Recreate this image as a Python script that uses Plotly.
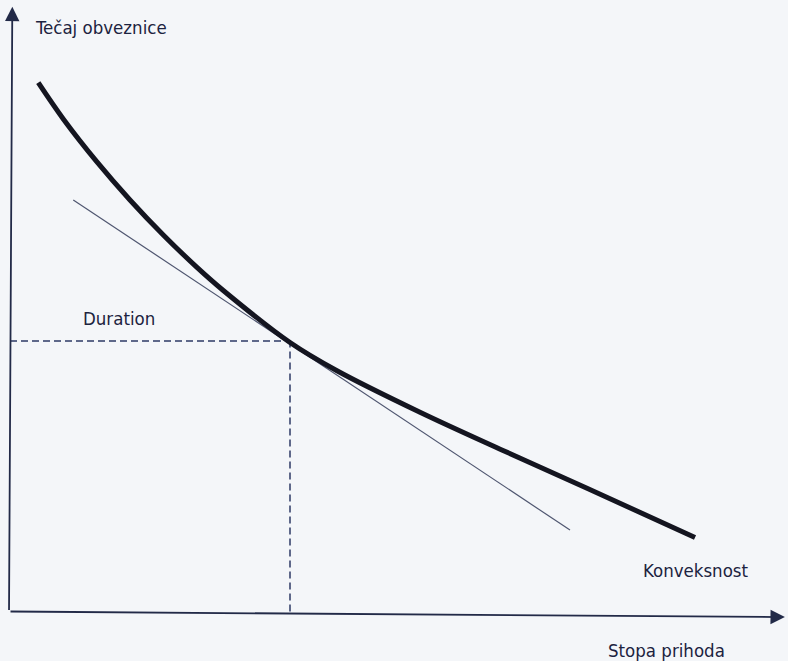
import plotly.graph_objects as go

# Bond price vs. yield (arbitrary units)
curve_yield = [0.404, 0.761, 1.239, 1.714, 2.190, 2.667, 3.043, 4.000, 4.671, 5.857, 7.043, 8.243, 9.786]
curve_price = [7.554, 7.036, 6.426, 5.879, 5.379, 4.920, 4.590, 3.843, 3.440, 2.847, 2.301, 1.761, 1.057]

# Tangent (duration) line
tangent_yield = [0.904, 8.000]
tangent_price = [5.879, 1.164]

# Point of tangency
duration_yield = 4.00
duration_price = 3.864

labels = {
    "yaxis": "Tečaj obveznice",
    "xaxis": "Stopa prihoda",
    "duration": "Duration",
    "convexity": "Konveksnost",
}

ink = "#1c2340"
font_family = "DejaVu Sans Condensed, Liberation Sans Narrow, Arial Narrow, sans-serif"

fig = go.Figure()

# dashed guide lines
fig.add_trace(go.Scatter(
    x=[0, duration_yield], y=[duration_price, duration_price],
    mode="lines", line=dict(color="#2d3a66", width=1.5, dash="7px,4px"),
    hoverinfo="skip", showlegend=False))
fig.add_trace(go.Scatter(
    x=[duration_yield, duration_yield], y=[0, duration_price],
    mode="lines", line=dict(color="#2d3a66", width=1.5, dash="7px,4px"),
    hoverinfo="skip", showlegend=False))

# tangent line
fig.add_trace(go.Scatter(
    x=tangent_yield, y=tangent_price, mode="lines",
    line=dict(color="#4f5670", width=1.2),
    hoverinfo="skip", showlegend=False))

# convex price curve
fig.add_trace(go.Scatter(
    x=curve_yield, y=curve_price, mode="lines",
    line=dict(color="#141520", width=5, shape="spline", smoothing=1.0),
    hoverinfo="skip", showlegend=False))

annotations = [
    # y axis arrow
    dict(x=0.033, y=8.64, ax=-0.014, ay=0.0, xref="x", yref="y", axref="x", ayref="y",
         text="", showarrow=True, arrowhead=2, arrowsize=1.6, arrowwidth=1.8,
         arrowcolor="#222a48", standoff=0),
    # x axis arrow
    dict(x=11.07, y=-0.08, ax=-0.014, ay=0.0, xref="x", yref="y", axref="x", ayref="y",
         text="", showarrow=True, arrowhead=2, arrowsize=1.6, arrowwidth=1.8,
         arrowcolor="#222a48", standoff=0),
    dict(x=0.33, y=8.34, text=labels["yaxis"], showarrow=False,
         xanchor="left", yanchor="middle"),
    dict(x=1.01, y=4.19, text=labels["duration"], showarrow=False,
         xanchor="left", yanchor="middle"),
    dict(x=9.01, y=0.58, text=labels["convexity"], showarrow=False,
         xanchor="left", yanchor="middle"),
    dict(x=8.51, y=-0.55, text=labels["xaxis"], showarrow=False,
         xanchor="left", yanchor="middle"),
]

fig.update_layout(
    width=788, height=661,
    margin=dict(l=0, r=0, t=0, b=0),
    paper_bgcolor="#f4f6f9", plot_bgcolor="#f4f6f9",
    font=dict(family=font_family, size=18.5, color=ink),
    xaxis=dict(range=[-10 / 70, 778 / 70], visible=False, fixedrange=True),
    yaxis=dict(range=[(611.5 - 661) / 70, 611.5 / 70], visible=False, fixedrange=True),
    annotations=annotations,
    showlegend=False,
)

fig.write_html(
    "out.html",
    config={"displayModeBar": False},
    post_script="document.body.style.margin='0';document.body.style.background='#f4f6f9';",
)
